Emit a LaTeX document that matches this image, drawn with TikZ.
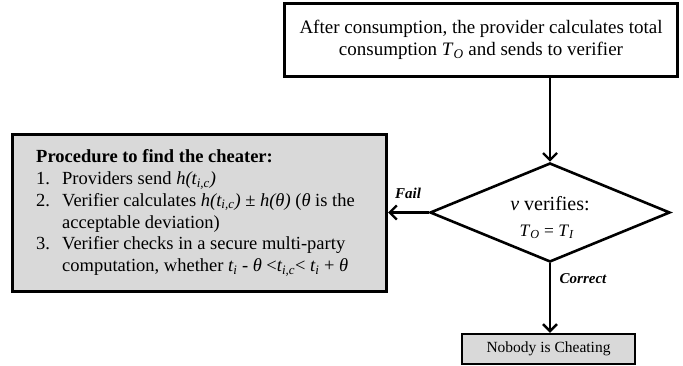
\documentclass[tikz,border=0pt]{standalone}
\usepackage{fontspec}
\setmainfont{Liberation Serif}
\usetikzlibrary{arrows.meta,shapes.geometric}
\definecolor{boxgray}{HTML}{D9D9D9}
\newcommand{\vi}[1]{\textit{#1}}
\newcommand{\isub}[1]{\textsubscript{\textit{#1}}}
\begin{document}
\begin{tikzpicture}[x=1pt,y=-1pt,
  flowbox/.style={draw=black,line width=2.4pt,rectangle,inner sep=0pt},
  arr/.style={line width=2.4pt,-{Straight Barb[length=7pt,width=14pt,line width=2.4pt]}},
  lbl/.style={font=\fontsize{15}{17}\selectfont\bfseries\itshape,inner sep=0pt},
  bigtext/.style={font=\fontsize{19}{22}\selectfont,inner sep=0pt,align=center}]
\useasboundingbox (0,0) rectangle (683,366);
% top box
\node[flowbox,fill=white,minimum width=393pt,minimum height=73pt] (top) at (481,40) {};
\node[bigtext] (toptext) at (481,40) {After consumption, the provider calculates total\\consumption \vi{T}\isub{O} and sends to verifier};
% diamond
\node[draw=black,line width=2.6pt,diamond,aspect=2.42,minimum width=240pt,minimum height=99pt,inner sep=0pt] (dec) at (550,212.5) {};
\node[font=\fontsize{20}{22}\selectfont,inner sep=0pt] (dtext) at (550,204) {\vi{v} verifies:};
\node[font=\fontsize{17.5}{19}\selectfont,inner sep=0pt] (deq) at (547,232) {\vi{T}\isub{O} = \vi{T}\isub{I}};
% left box
\node[flowbox,line width=3.2pt,fill=boxgray,minimum width=374pt,minimum height=157pt] (proc) at (199.5,213) {};
\node[font=\fontsize{18.5}{21.8}\selectfont,inner sep=0pt,align=left,anchor=west] (proctext) at (36,213) {%
\textbf{Procedure to find the cheater:}\\
\makebox[26pt][l]{1.}Providers send \vi{h(t\isub{i,c})}\\
\makebox[26pt][l]{2.}Verifier calculates \vi{h(t\isub{i,c})} ± \vi{h(θ)} (\vi{θ} is the\\
\hspace*{26pt}acceptable deviation)\\
\makebox[26pt][l]{3.}Verifier checks in a secure multi-party\\
\hspace*{26pt}computation, whether \vi{t\isub{i}} - \vi{θ} <\vi{t\isub{i,c}}< \vi{t\isub{i}} + \vi{θ}};
% bottom box
\node[flowbox,fill=boxgray,minimum width=173pt,minimum height=30pt,font=\fontsize{15.5}{18}\selectfont] (nobody) at (548.5,349) {Nobody is Cheating};
% connectors
\draw[arr] (top.south -| dec.north) -- (dec.north);
\draw[arr] (dec.west) -- (proc.east |- dec.west);
\draw[arr] (dec.south) -- (nobody.north -| dec.south);
\node[lbl] (fail) at (408,193) {Fail};
\node[lbl] (correct) at (583,279) {Correct};
\end{tikzpicture}
\end{document}
